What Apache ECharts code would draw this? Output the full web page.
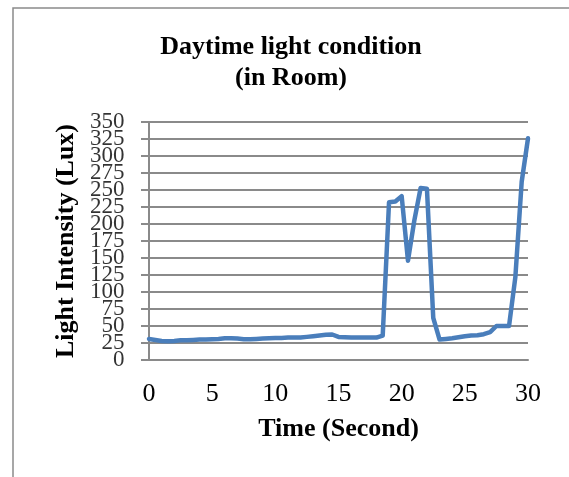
<!DOCTYPE html>
<html>
<head>
<meta charset="utf-8">
<style>
  html, body { margin: 0; padding: 0; background: #fff; }
  #main { width: 569px; height: 477px; }
</style>
<script src="https://cdn.jsdelivr.net/npm/echarts@6/dist/echarts.min.js"></script>
</head>
<body>
<div id="main"></div>
<script>
// 时间（秒）
var timeSec = [0, 0.5, 1, 1.5, 2, 2.5, 3, 3.5, 4, 4.5, 5, 5.5, 6, 6.5, 7, 7.5, 8, 8.5, 9, 9.5,
    10, 10.5, 11, 11.5, 12, 12.5, 13, 13.5, 14, 14.5, 15, 15.5, 16, 16.5, 17, 17.5, 18, 18.5, 19, 19.5,
    20, 20.5, 21, 21.5, 22, 22.5, 23, 23.5, 24, 24.5, 25, 25.5, 26, 26.5, 27, 27.5, 28, 28.5, 29, 29.5, 30];

// 光照强度 (Lux)
var luxValues = [31, 29.5, 28, 27.5, 28, 29, 29, 29.5, 30, 30, 30.5, 31, 32, 32, 31.5, 30.5, 30.5, 31, 31.5, 32,
    32.5, 32.5, 33, 33, 33, 34, 35, 36, 37, 37.5, 34, 33.5, 33, 33, 33, 33, 33, 36, 232, 233,
    241, 146, 205, 253, 252, 62, 30, 31, 32, 33.5, 35, 36, 36.5, 38, 41, 50, 50, 50, 122, 262, 326];

// y轴刻度标签（标签互相重叠，echarts 会自动隐藏，所以单独画）
var yTickLabels = [0, 25, 50, 75, 100, 125, 150, 175, 200, 225, 250, 275, 300, 325, 350];

var chartTitle = 'Daytime light condition\n(in Room)';
var xName = 'Time (Second)';
var yName = 'Light Intensity (Lux)';

var serif = "'Liberation Serif', 'Times New Roman', serif";
var gridColor = '#8a8a8a';

var seriesData = [];
for (var i = 0; i < timeSec.length; i++) {
    seriesData.push([timeSec[i], luxValues[i]]);
}

var tickData = [];
for (var j = 0; j < yTickLabels.length; j++) {
    tickData.push([0, yTickLabels[j]]);
}

var myChart = echarts.init(document.getElementById('main'));

var option = {
    backgroundColor: '#fff',
    animation: false,
    title: {
        text: chartTitle,
        left: 291,
        top: 32,
        padding: 0,
        textAlign: 'center',
        textStyle: {
            fontFamily: serif,
            fontWeight: 'bold',
            fontSize: 26,
            lineHeight: 31,
            color: '#000'
        }
    },
    graphic: [{
        type: 'rect',
        shape: { x: 13, y: 8, width: 700, height: 600 },
        style: { fill: 'none', stroke: '#8a8a8a', lineWidth: 1.5 },
        silent: true,
        z: -1
    }],
    grid: {
        left: 149,
        right: 41,
        top: 122,
        bottom: 117
    },
    xAxis: {
        type: 'value',
        min: 0,
        max: 30,
        interval: 5,
        name: xName,
        nameLocation: 'middle',
        nameGap: 56,
        nameTextStyle: {
            fontFamily: serif,
            fontWeight: 'bold',
            fontSize: 26,
            color: '#000'
        },
        axisLine: { show: true, lineStyle: { color: gridColor, width: 2 } },
        axisTick: { show: false },
        splitLine: { show: false },
        axisLabel: {
            margin: 21,
            fontFamily: serif,
            fontSize: 26,
            color: '#000'
        }
    },
    yAxis: {
        type: 'value',
        min: 0,
        max: 350,
        interval: 25,
        name: yName,
        nameLocation: 'middle',
        nameGap: 70,
        nameTextStyle: {
            fontFamily: serif,
            fontWeight: 'bold',
            fontSize: 26,
            color: '#000'
        },
        axisLine: { show: true, lineStyle: { color: gridColor, width: 2 } },
        axisTick: { show: true, length: 8, lineStyle: { color: gridColor, width: 2 } },
        splitLine: { show: true, lineStyle: { color: gridColor, width: 2 } },
        axisLabel: { show: false }
    },
    series: [{
        type: 'line',
        data: seriesData,
        showSymbol: false,
        symbol: 'none',
        lineStyle: { color: '#4a7ebb', width: 4.5, join: 'round', cap: 'round' },
        z: 3
    }, {
        // y轴刻度文字
        type: 'scatter',
        data: tickData,
        symbolSize: 1,
        silent: true,
        clip: false,
        itemStyle: { color: 'rgba(0,0,0,0)' },
        label: {
            show: true,
            position: 'left',
            distance: 24,
            formatter: function (p) { return String(p.value[1]); },
            fontFamily: serif,
            fontSize: 23,
            color: '#000'
        },
        z: 1
    }]
};

myChart.setOption(option);
</script>
</body>
</html>
